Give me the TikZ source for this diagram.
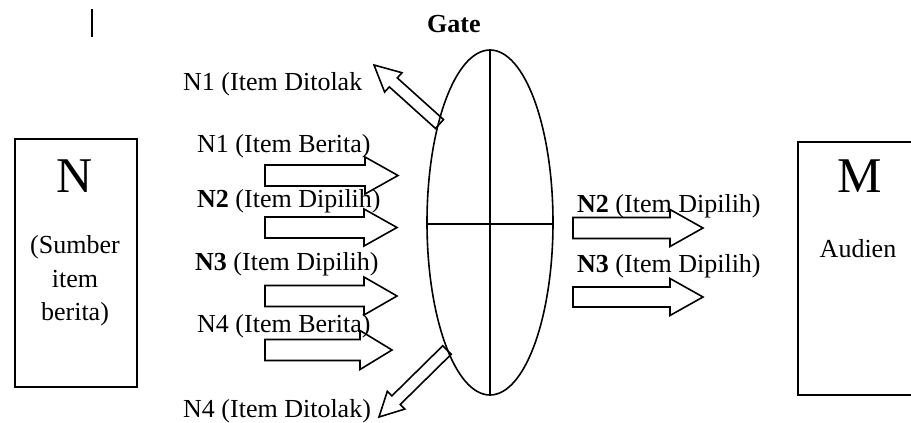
\documentclass[tikz,border=0pt]{standalone}
\usepackage{fontspec}
\setmainfont{Liberation Serif}
\usetikzlibrary{calc,shapes.geometric}
\tikzset{
  fat/.style={draw=black, line width=1.6pt, line join=miter},
  lbl/.style={inner sep=0pt, anchor=base west, font=\fontsize{26}{30}\selectfont},
  clbl/.style={inner sep=0pt, anchor=base, font=\fontsize{26}{30}\selectfont},
  big/.style={inner sep=0pt, anchor=base, font=\fontsize{50}{56}\selectfont},
  frame/.style={draw=black, line width=1.8pt},
  gline/.style={draw=black, line width=1.6pt},
}
\newcommand\fatarrow[6]{%
  \coordinate (#1b) at #2;
  \coordinate (#1t) at #3;
  \coordinate (#1h) at ($(#1t)!#6!(#1b)$);
  \draw[fat] ($(#1b)!#4!90:(#1t)$) -- ($(#1h)!#4!90:(#1t)$) -- ($(#1h)!#5!90:(#1t)$)
    -- (#1t) -- ($(#1h)!#5!-90:(#1t)$) -- ($(#1h)!#4!-90:(#1t)$) -- ($(#1b)!#4!-90:(#1t)$) -- cycle;
}
\begin{document}
\begin{tikzpicture}[x=1pt,y=-1pt]
\useasboundingbox (0,0) rectangle (911,423);
\fill[white] (0,0) rectangle (911,423);

% stray bar
\coordinate (bar1) at (92,9);
\coordinate (bar2) at (92,37);
\draw[line width=1.6pt] (bar1) -- (bar2);

% N box
\node[frame, minimum width=122pt, minimum height=248pt, inner sep=0pt] (nbox) at (76,263) {};
\node[big] (nlet) at (75,192) {N};
\node[clbl] (nt1) at (75,253) {(Sumber};
\node[clbl] (nt2) at (75,287) {item};
\node[clbl] (nt3) at (75,320) {berita)};

% M box (cut at right edge)
\coordinate (m1) at (930,142);
\coordinate (m2) at (798,142);
\coordinate (m3) at (798,395);
\coordinate (m4) at (930,395);
\draw[frame] (m1) -- (m2) -- (m3) -- (m4);
\node[big] (mlet) at (860,192) {M};
\node[clbl] (aud) at (858,257) {Audien};

% Gate
\node[lbl] (gatelbl) at (427,32) {\textbf{Gate}};
\node[ellipse, gline, minimum width=126pt, minimum height=345pt, inner sep=0pt] (gate) at (490,222.5) {};
\coordinate (gw) at (427,224);
\coordinate (ge) at (553,224);
\draw[gline] (gate.north) -- (gate.south);
\draw[gline] (gw) -- (ge);

% input arrows
\fatarrow{a}{(265,175.5)}{(398,175.5)}{10.5pt}{18.5pt}{33pt}
\fatarrow{b}{(265,227.5)}{(397,227.5)}{10.5pt}{18.5pt}{33pt}
\fatarrow{c}{(265,296)}{(397,296)}{10.5pt}{19pt}{33pt}
\fatarrow{d}{(265,350)}{(392,350)}{10.5pt}{19.5pt}{32pt}

% output arrows
\fatarrow{e}{(573,228)}{(703,228)}{10.5pt}{18.5pt}{33pt}
\fatarrow{f}{(573,297)}{(703,297)}{10pt}{18.5pt}{33pt}

% rejected arrows
\fatarrow{g}{(439.5,124)}{(374,65)}{6pt}{13pt}{26pt}
\fatarrow{h}{(447,350)}{(379,417)}{6pt}{12.5pt}{24pt}

% labels
\node[lbl] (l1) at (183,90) {N1 (Item Ditolak};
\node[lbl] (l2) at (197,152) {N1 (Item Berita)};
\node[lbl] (l3) at (197,207) {\textbf{N2} (Item Dipilih)};
\node[lbl] (l4) at (195,270) {\textbf{N3} (Item Dipilih)};
\node[lbl] (l5) at (197,332) {N4 (Item Berita)};
\node[lbl] (l6) at (183,417) {N4 (Item Ditolak)};
\node[lbl] (r1) at (577,212) {\textbf{N2} (Item Dipilih)};
\node[lbl] (r2) at (577,272) {\textbf{N3} (Item Dipilih)};
\end{tikzpicture}
\end{document}
